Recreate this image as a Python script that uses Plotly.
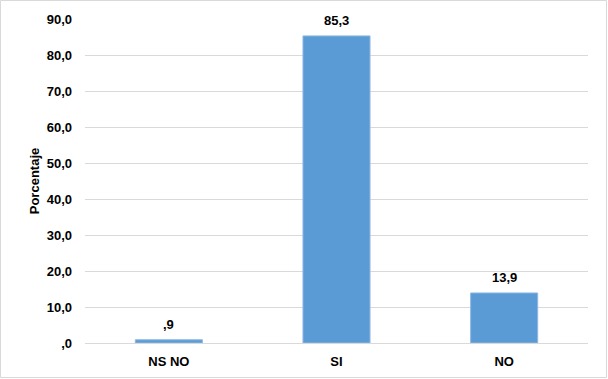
import plotly.graph_objects as go

categories = ["NS NO", "SI", "NO"]
values = [0.9, 85.3, 13.9]
tick_vals = [0, 10, 20, 30, 40, 50, 60, 70, 80, 90]
tick_text = [",0", "10,0", "20,0", "30,0", "40,0", "50,0", "60,0", "70,0", "80,0", "90,0"]


def fmt(v):
    s = f"{v:.1f}".replace(".", ",")
    if s.startswith("0,"):
        s = s[1:]
    return s


W, H = 608, 379
ml, mr, mt, mb = 85, 20, 19, 36
pw, ph = W - ml - mr, H - mt - mb
FONT = "Liberation Sans, Arial"

fig = go.Figure(go.Bar(
    x=categories, y=values,
    marker=dict(color="#5B9BD5", line=dict(color="#8DB8E3", width=1)),
))

annotations = [
    dict(x=c, y=v, xref="x", yref="y", text=f"<b>{fmt(v)}</b>", showarrow=False,
         yanchor="bottom", yshift=6,
         font=dict(family=FONT, size=13, color="#000000"))
    for c, v in zip(categories, values)
]

fig.update_layout(
    width=W, height=H,
    margin=dict(l=ml, r=mr, t=mt, b=mb, autoexpand=False),
    paper_bgcolor="white", plot_bgcolor="white",
    bargap=0.6,
    showlegend=False,
    font=dict(family=FONT, size=13, color="#000000"),
    annotations=annotations,
    shapes=[dict(
        type="rect", xref="paper", yref="paper",
        x0=-(ml - 0.5) / pw, x1=1 + (mr - 1.5) / pw,
        y0=-(mb - 1.5) / ph, y1=1 + (mt - 0.5) / ph,
        line=dict(color="#D9D9D9", width=1), layer="below",
    )],
)

fig.update_xaxes(
    showgrid=False, showline=False, zeroline=False, ticks="",
    tickfont=dict(family=FONT, size=13, color="#000000", weight="bold"),
    ticklabelstandoff=9, automargin=False,
)
fig.update_yaxes(
    range=[0, 90], tickvals=tick_vals, ticktext=tick_text,
    showgrid=True, gridcolor="#D9D9D9", gridwidth=1,
    zeroline=True, zerolinecolor="#D9D9D9", zerolinewidth=1,
    showline=False, ticks="", automargin=False,
    tickfont=dict(family=FONT, size=13, color="#000000", weight="bold"),
    ticklabelstandoff=12,
    title=dict(text="<b>Porcentaje</b>", font=dict(family=FONT, size=13, color="#000000"), standoff=4),
)

fig.write_html("out.html")
